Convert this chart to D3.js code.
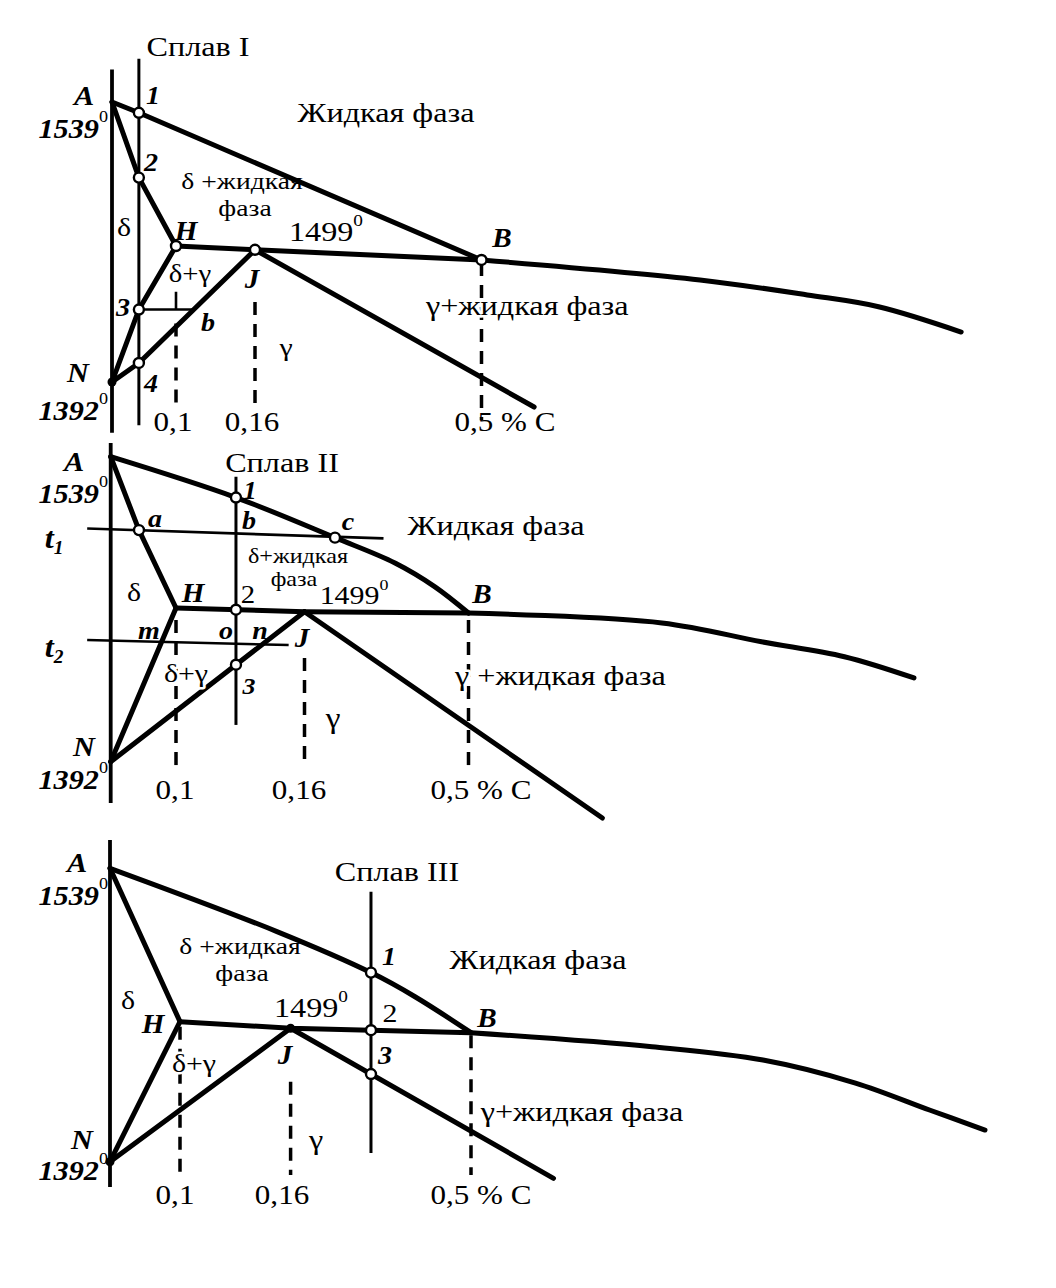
<!DOCTYPE html>
<html><head><meta charset="utf-8">
<script src="https://cdn.jsdelivr.net/npm/d3@7"></script>
<style>body{margin:0;background:#fff} svg{display:block} text{font-family:"Liberation Serif","Times New Roman",serif;fill:#000}</style>
</head><body>
<svg id="chart" width="1056" height="1288"></svg>
<script>
// ---------- shared axis values ----------
const carbonTicks = [0, 0.1, 0.16, 0.5];          // % C
const tempTicks = [1392, 1499, 1539];             // °C
const carbonTickLabels = ["0,1", "0,16", "0,5 % C"];

// ---------- Panel 1 : Сплав I ----------
const p1Axis = [[0, 1548], [0, 1352]];
const p1Liquidus = [[0, 1539], [0.042, 1536], [0.5, 1488]];
const p1Solidus = [[0, 1539], [0.042, 1518], [0.1, 1499]];
const p1Peritectic = [[0.1, 1499], [0.16, 1496], [0.5, 1488]];
const p1LiquidusRight = [[0.5, 1488], [0.828, 1472.3], [0.989, 1460.5], [1.096, 1451.2], [1.22, 1431.3]];
const p1DeltaGamma = [[0, 1392], [0.042, 1449], [0.1, 1499]];
const p1GammaLine = [[0, 1392], [0.042, 1407], [0.16, 1496]];
const p1GammaSolidus = [[0.16, 1496], [0.579, 1372.3]];
const p1Alloy = [[0.042, 1551], [0.042, 1358]];
const p1Ties = [[[0.042, 1449], [0.113, 1449]], [[0.1, 1463], [0.1, 1449]]];
const p1Dashed = [[0.1, 1438, 1371.5], [0.16, 1455, 1375.5], [0.5, 1485.6, 1362]];
const p1Circles = [[0.042, 1536], [0.042, 1518], [0.1, 1499], [0.16, 1496], [0.5, 1488], [0.042, 1449], [0.042, 1407]];
const p1Dots = [[0, 1392]];

// ---------- Panel 2 : Сплав II ----------
const p2Axis = [[0, 1542.6], [0, 1363.2]];
const p2Liquidus = [[0, 1539], [0.128, 1528.2], [0.2232, 1517.6], [0.3476, 1510.9], [0.4305, 1504.6], [0.5, 1495.5]];
const p2Solidus = [[0, 1539], [0.0433, 1519.6], [0.1, 1499]];
const p2Peritectic = [[0.1, 1499], [0.16, 1496.4], [0.5, 1495.5]];
const p2LiquidusRight = [[0.5, 1495.5], [0.901, 1488.6], [1.1076, 1475.5], [1.2794, 1465.1], [1.4235, 1450.3]];
const p2DeltaGamma = [[0, 1392], [0.1, 1499]];
const p2GammaLine = [[0, 1392], [0.16, 1496.4]];
const p2GammaSolidus = [[0.16, 1496.4], [0.7775, 1352.8]];
const p2Alloy = [[0.128, 1533.7], [0.128, 1417.6]];
const p2Ties = [[[-0.036, 1520], [0.3238, 1517.4]], [[-0.036, 1476.7], [0.1526, 1473.2]]];
const p2Dashed = [[0.1, 1490.6, 1387.6], [0.16, 1464.2, 1388.3], [0.5, 1490.6, 1386.2]];
const p2Circles = [[0.128, 1528.2], [0.0433, 1519.6], [0.2232, 1517.6], [0.128, 1497.8], [0.128, 1459.5]];
const p2Dots = [];

// ---------- Panel 3 : Сплав III ----------
const p3Axis = [[0, 1546.4], [0, 1372.7]];
const p3Liquidus = [[0, 1539], [0.1526, 1522.5], [0.3115, 1511.8], [0.3945, 1505.5], [0.5, 1490.6]];
const p3Solidus = [[0, 1539], [0.1, 1499]];
const p3Peritectic = [[0.1, 1499], [0.16, 1494], [0.5, 1490.6]];
const p3LiquidusRight = [[0.5, 1490.6], [0.841, 1479.9], [1.0504, 1469.7], [1.2247, 1452.1], [1.3641, 1431.5], [1.4687, 1416.2]];
const p3DeltaGamma = [[0, 1392], [0.1, 1499]];
const p3GammaLine = [[0, 1392], [0.16, 1494]];
const p3GammaSolidus = [[0.16, 1494], [0.6555, 1379.3]];
const p3Alloy = [[0.3115, 1532.9], [0.3115, 1398.6]];
const p3Ties = [];
const p3Dashed = [[0.1, 1495.2, 1383.4], [0.16, 1453.1, 1381.8], [0.5, 1488.6, 1381.8]];
const p3Circles = [[0.3115, 1511.8], [0.3115, 1492.5], [0.3115, 1459]];
const p3Dots = [[0, 1392], [0.16, 1494]];

// ---------- layout (pixel ranges & annotation placement) ----------
const panels = [
  { xr: [112, 176, 255, 481.5], yr: [382, 246, 102],
    axis: p1Axis, liq: p1Liquidus, liqCurve: false, sol: p1Solidus, per: p1Peritectic, liqR: p1LiquidusRight,
    dg: p1DeltaGamma, gl: p1GammaLine, gs: p1GammaSolidus, alloy: p1Alloy, ties: p1Ties, dashed: p1Dashed,
    circles: p1Circles, dots: p1Dots,
    tickY: 422, tickX: [173, 252, 505],
    labels: [
      {t: "Сплав I", x: 198, y: 47, s: 28},
      {t: "A", x: 84, y: 95, s: 28, bi: 1},
      {t: "1539", sup: "0", x: 108, y: 128, s: 28, bi: 1, a: "end"},
      {t: "1", x: 153, y: 95, s: 26, bi: 1},
      {t: "2", x: 151, y: 162, s: 26, bi: 1},
      {t: "Жидкая фаза", x: 386, y: 113, s: 28},
      {t: "δ +жидкая", x: 242, y: 181, s: 24},
      {t: "фаза", x: 245, y: 208, s: 24},
      {t: "δ", x: 124, y: 227, s: 26},
      {t: "H", x: 186, y: 230, s: 27, bi: 1},
      {t: "1499", sup: "0", x: 326, y: 232, s: 28},
      {t: "B", x: 502, y: 237, s: 27, bi: 1},
      {t: "δ+γ", x: 190, y: 274, s: 25, halo: 1},
      {t: "J", x: 252, y: 278, s: 27, bi: 1},
      {t: "γ+жидкая фаза", x: 426, y: 306, s: 28, a: "start", halo: 1},
      {t: "3", x: 123, y: 307, s: 26, bi: 1},
      {t: "b", x: 208, y: 322, s: 26, bi: 1},
      {t: "γ", x: 286, y: 347, s: 26},
      {t: "N", x: 78, y: 372, s: 28, bi: 1},
      {t: "4", x: 151, y: 383, s: 26, bi: 1},
      {t: "1392", sup: "0", x: 108, y: 410, s: 28, bi: 1, a: "end"}
    ] },
  { xr: [110.7, 176, 304.5, 468.5], yr: [761.7, 608, 456.7],
    axis: p2Axis, liq: p2Liquidus, liqCurve: true, sol: p2Solidus, per: p2Peritectic, liqR: p2LiquidusRight,
    dg: p2DeltaGamma, gl: p2GammaLine, gs: p2GammaSolidus, alloy: p2Alloy, ties: p2Ties, dashed: p2Dashed,
    circles: p2Circles, dots: p2Dots,
    tickY: 790, tickX: [175, 299, 481],
    labels: [
      {t: "Сплав II", x: 282, y: 463, s: 28},
      {t: "A", x: 74, y: 461, s: 28, bi: 1},
      {t: "1539", sup: "0", x: 108, y: 493, s: 28, bi: 1, a: "end"},
      {t: "1", x: 250, y: 490, s: 25, bi: 1},
      {t: "a", x: 155, y: 518, s: 26, bi: 1},
      {t: "b", x: 249, y: 520, s: 26, bi: 1},
      {t: "c", x: 348, y: 521, s: 26, bi: 1},
      {t: "Жидкая фаза", x: 496, y: 526, s: 28},
      {t: "t", sub: "1", x: 54, y: 537, s: 30, bi: 1},
      {t: "δ+жидкая", x: 298, y: 556, s: 21},
      {t: "фаза", x: 294, y: 579, s: 21},
      {t: "δ", x: 134, y: 592, s: 26},
      {t: "H", x: 193, y: 592, s: 27, bi: 1},
      {t: "2", x: 248, y: 595, s: 25},
      {t: "1499", sup: "0", x: 354, y: 595, s: 26},
      {t: "B", x: 482, y: 593, s: 27, bi: 1},
      {t: "m", x: 149, y: 630, s: 26, bi: 1},
      {t: "o", x: 226, y: 630, s: 26, bi: 1},
      {t: "n", x: 260, y: 630, s: 26, bi: 1},
      {t: "J", x: 302, y: 637, s: 27, bi: 1},
      {t: "t", sub: "2", x: 54, y: 646, s: 30, bi: 1},
      {t: "δ+γ", x: 186, y: 673, s: 26, halo: 1},
      {t: "3", x: 249, y: 685, s: 24, bi: 1},
      {t: "γ +жидкая фаза", x: 455, y: 676, s: 28, a: "start", halo: 1},
      {t: "γ", x: 333, y: 718, s: 29},
      {t: "N", x: 84, y: 746, s: 28, bi: 1},
      {t: "1392", sup: "0", x: 108, y: 779, s: 28, bi: 1, a: "end"}
    ] },
  { xr: [110, 180, 290.6, 471], yr: [1161.7, 1021.7, 868.3],
    axis: p3Axis, liq: p3Liquidus, liqCurve: true, sol: p3Solidus, per: p3Peritectic, liqR: p3LiquidusRight,
    dg: p3DeltaGamma, gl: p3GammaLine, gs: p3GammaSolidus, alloy: p3Alloy, ties: p3Ties, dashed: p3Dashed,
    circles: p3Circles, dots: p3Dots,
    tickY: 1195, tickX: [175, 282, 481],
    labels: [
      {t: "Сплав III", x: 397, y: 872, s: 28},
      {t: "A", x: 77, y: 862, s: 28, bi: 1},
      {t: "1539", sup: "0", x: 108, y: 895, s: 28, bi: 1, a: "end"},
      {t: "δ +жидкая", x: 240, y: 946, s: 24},
      {t: "фаза", x: 242, y: 973, s: 24},
      {t: "1", x: 389, y: 956, s: 26, bi: 1},
      {t: "Жидкая фаза", x: 538, y: 960, s: 28},
      {t: "δ", x: 128, y: 1000, s: 26},
      {t: "H", x: 153, y: 1023, s: 27, bi: 1},
      {t: "1499", sup: "0", x: 311, y: 1008, s: 28},
      {t: "2", x: 390, y: 1013, s: 26},
      {t: "B", x: 487, y: 1017, s: 27, bi: 1},
      {t: "J", x: 285, y: 1054, s: 27, bi: 1},
      {t: "δ+γ", x: 194, y: 1063, s: 26, halo: 1},
      {t: "3", x: 385, y: 1055, s: 26, bi: 1},
      {t: "γ+жидкая фаза", x: 582, y: 1112, s: 28, halo: 1},
      {t: "γ", x: 316, y: 1140, s: 28},
      {t: "N", x: 82, y: 1139, s: 28, bi: 1},
      {t: "1392", sup: "0", x: 108, y: 1170, s: 28, bi: 1, a: "end"}
    ] }
];

const svg = d3.select("#chart");
svg.append("rect").attr("width", 1056).attr("height", 1288).attr("fill", "#fff");

function addText(g, d) {
  const k = d.bi ? 1.08 : 1.15;   // the scanned type is slightly wider than Liberation Serif
  const t = g.append("text")
    .attr("transform", `translate(${d.x},${d.y}) scale(${k},1)`)
    .attr("text-anchor", d.a || "middle")
    .attr("dominant-baseline", "central")
    .style("font-size", d.s + "px")
    .style("font-weight", d.bi ? "bold" : "normal")
    .style("font-style", d.bi ? "italic" : "normal");
  if (d.halo) t.attr("stroke", "#fff").attr("stroke-width", 5).attr("paint-order", "stroke").attr("stroke-linejoin", "round");
  t.append("tspan").text(d.t);
  if (d.sup) t.append("tspan").attr("dy", -d.s * 0.42).style("font-size", (d.s * 0.6) + "px")
    .style("font-weight", "normal").style("font-style", "normal").text(d.sup);
  if (d.sub) t.append("tspan").attr("dy", d.s * 0.35).style("font-size", (d.s * 0.6) + "px").text(d.sub);
}

panels.forEach(p => {
  const x = d3.scaleLinear().domain(carbonTicks).range(p.xr);
  const y = d3.scaleLinear().domain(tempTicks).range(p.yr);
  const g = svg.append("g");
  const lin = d3.line().x(d => x(d[0])).y(d => y(d[1]));
  const cur = d3.line().x(d => x(d[0])).y(d => y(d[1])).curve(d3.curveCatmullRom.alpha(0.5));

  // dashed composition lines
  g.selectAll(".dash").data(p.dashed).join("line")
    .attr("x1", d => x(d[0])).attr("x2", d => x(d[0]))
    .attr("y1", d => y(d[1])).attr("y2", d => y(d[2]))
    .attr("stroke", "#000").attr("stroke-width", 3.5).attr("stroke-dasharray", "13,9");

  // tie lines
  g.selectAll(".tie").data(p.ties).join("path")
    .attr("d", lin).attr("fill", "none").attr("stroke", "#000").attr("stroke-width", 2.6);

  // temperature axis and alloy line
  g.append("path").attr("d", lin(p.axis)).attr("fill", "none").attr("stroke", "#000").attr("stroke-width", 3.8);
  g.append("path").attr("d", lin(p.alloy)).attr("fill", "none").attr("stroke", "#000").attr("stroke-width", 3);

  // phase boundaries
  const thick = 5;
  const boundary = (data, gen) => g.append("path").attr("d", gen(data)).attr("fill", "none")
    .attr("stroke", "#000").attr("stroke-width", thick).attr("stroke-linejoin", "round").attr("stroke-linecap", "round");
  boundary(p.liq, p.liqCurve ? cur : lin);
  boundary(p.sol, lin);
  boundary(p.per, lin);
  boundary(p.liqR, cur);
  boundary(p.dg, lin);
  boundary(p.gl, lin);
  boundary(p.gs, lin);

  // filled junction dots
  g.selectAll(".dot").data(p.dots).join("circle")
    .attr("cx", d => x(d[0])).attr("cy", d => y(d[1])).attr("r", 4.5).attr("fill", "#000");

  // marked points
  g.selectAll(".pt").data(p.circles).join("circle")
    .attr("cx", d => x(d[0])).attr("cy", d => y(d[1])).attr("r", 5)
    .attr("fill", "#fff").attr("stroke", "#000").attr("stroke-width", 2.4);

  // composition tick labels
  carbonTicks.slice(1).forEach((c, i) => {
    addText(g, {t: carbonTickLabels[i], x: p.tickX[i], y: p.tickY, s: 27});
  });

  p.labels.forEach(d => addText(g, d));
});
</script>
</body></html>
